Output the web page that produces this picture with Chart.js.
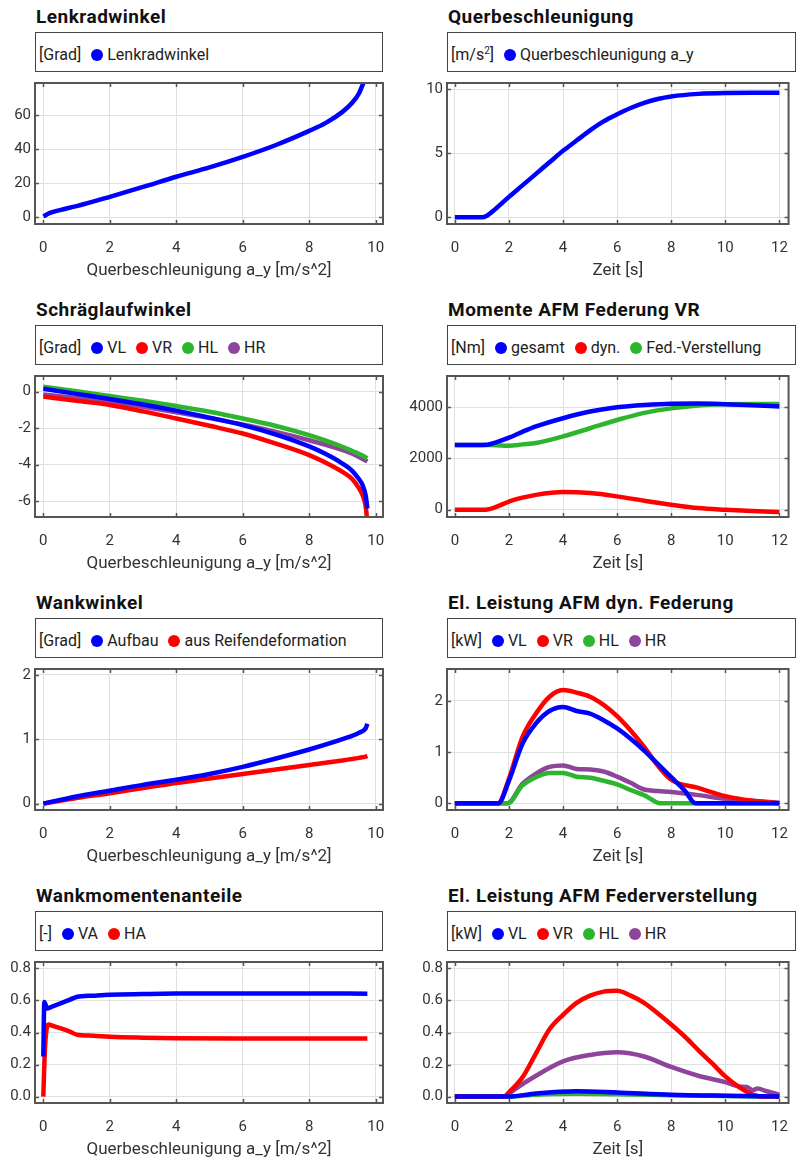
<!DOCTYPE html>
<html>
<head>
<meta charset="utf-8">
<script src="https://cdn.jsdelivr.net/npm/chart.js@4"></script>
<style>
  body { margin: 0; background: #fff; font-family: Roboto, sans-serif; }
  #page { position: relative; width: 803px; height: 1160px; overflow: hidden; }
  canvas { position: absolute; }
  .ttl { position: absolute; font-size: 19px; line-height: 18px; letter-spacing: 0.5px; font-weight: bold; color: #111; white-space: nowrap; }
  .leg { position: absolute; height: 40px; border: 1.5px solid #444; box-sizing: border-box; }
  .leg .row { position: absolute; left: 3px; top: 12px; display: flex; align-items: center; font-size: 16px; line-height: 20px; color: #222; white-space: nowrap; }
  .leg .it { display: flex; align-items: center; margin-left: 10px; }
  .leg .dot { width: 12px; height: 12px; border-radius: 50%; margin-right: 4px; }
  .leg sup { font-size: 10px; line-height: 0; }
</style>
</head>
<body>
<div id="page"></div>
<script>
const BLUE = '#0000ff', RED = '#ff0000', GREEN = '#2db52d', PURPLE = '#8f449b';

// tick labels
const ticksAy = [0, 2, 4, 6, 8, 10];
const ticksT = [0, 2, 4, 6, 8, 10, 12];
const yTicksLenk = [0, 20, 40, 60];
const yTicksQuer = [0, 5, 10];
const yTicksSchr = [-6, -4, -2, 0];
const yTicksMom = [0, 2000, 4000];
const yTicksWank = [0, 1, 2];
const yTicksFd = [0, 1, 2];
const yTicksAnt = [0, 0.2, 0.4, 0.6, 0.8];
const yTicksFv = [0, 0.2, 0.4, 0.6, 0.8];

// Lenkradwinkel
const ayLenk = [0, 0.2, 0.5, 1, 2, 3, 4, 5, 6, 7, 8, 8.5, 9, 9.3, 9.5, 9.65];
const lenkrad = [0.5, 2.5, 4.2, 6.5, 12, 17.8, 23.8, 29.3, 35.5, 42.5, 50.8, 55.5, 62, 67.5, 73, 80];

// Querbeschleunigung
const tQuer = [0, 1, 1.2, 1.5, 2, 2.5, 3, 3.5, 4, 4.5, 5, 5.5, 6, 6.5, 7, 7.5, 8, 9, 10, 11, 12];
const quer = [0, 0, 0.15, 0.65, 1.6, 2.5, 3.4, 4.3, 5.2, 6.0, 6.8, 7.5, 8.05, 8.55, 8.95, 9.25, 9.45, 9.65, 9.72, 9.73, 9.73];

// Schräglaufwinkel
const aySchr = [0, 1, 2, 3, 4, 5, 6, 7, 8, 8.5, 9, 9.3, 9.5, 9.6, 9.7, 9.75];
const schrVL = [0.16, -0.12, -0.4, -0.7, -1.04, -1.42, -1.83, -2.35, -3.0, -3.42, -3.94, -4.35, -4.8, -5.1, -5.7, -6.4];
const schrVR = [-0.27, -0.5, -0.73, -1.08, -1.47, -1.87, -2.29, -2.85, -3.48, -3.9, -4.4, -4.8, -5.3, -5.65, -6.3, -7.2];
const schrHL = [0.27, 0.02, -0.24, -0.5, -0.79, -1.1, -1.47, -1.88, -2.38, -2.68, -3.02, -3.25, -3.42, -3.5, -3.6, -3.65];
const schrHR = [-0.15, -0.35, -0.55, -0.83, -1.13, -1.45, -1.8, -2.2, -2.66, -2.92, -3.2, -3.4, -3.58, -3.68, -3.78, -3.83];

// Momente AFM Federung VR
const tMom = [0, 1, 1.2, 1.5, 2, 2.5, 3, 4, 5, 6, 7, 8, 9, 10, 11, 12];
const momGesamt = [2530, 2530, 2535, 2620, 2810, 3040, 3250, 3570, 3830, 4000, 4090, 4140, 4145, 4120, 4080, 4030];
const momDyn = [0, 0, 10, 100, 320, 470, 580, 690, 650, 520, 350, 195, 65, 0, -50, -90];
const momFed = [2530, 2530, 2525, 2520, 2500, 2550, 2600, 2860, 3180, 3500, 3780, 3955, 4070, 4115, 4130, 4125];

// Wankwinkel
const ayWank = [0, 1, 2, 3, 4, 5, 6, 7, 8, 9, 9.5, 9.7, 9.75];
const wankAufbau = [0, 0.11, 0.2, 0.29, 0.37, 0.46, 0.57, 0.7, 0.84, 1.0, 1.1, 1.17, 1.24];
const wankReifen = [0, 0.085, 0.16, 0.24, 0.32, 0.39, 0.46, 0.53, 0.6, 0.67, 0.71, 0.73, 0.74];

// El. Leistung AFM dyn. Federung
const tFdVL = [0, 1.6, 2, 2.5, 3, 3.5, 4, 4.5, 5, 5.5, 6, 6.5, 7, 7.5, 8, 8.5, 8.9, 12];
const fdVL = [0, 0, 0.44, 1.16, 1.56, 1.8, 1.88, 1.8, 1.75, 1.62, 1.46, 1.26, 1.03, 0.77, 0.51, 0.25, 0, 0];
const tFdVR = [0, 1.6, 2, 2.5, 3, 3.5, 4, 4.5, 5, 5.5, 6, 6.5, 7, 7.5, 8, 9, 10, 11, 12];
const fdVR = [0, 0, 0.48, 1.29, 1.75, 2.08, 2.21, 2.16, 2.08, 1.92, 1.7, 1.42, 1.1, 0.74, 0.46, 0.3, 0.14, 0.05, 0];
const tFdHL = [0, 1.95, 2.5, 3, 3.5, 4, 4.5, 5, 5.5, 6, 6.5, 7, 7.6, 12];
const fdHL = [0, 0, 0.35, 0.51, 0.59, 0.59, 0.52, 0.5, 0.44, 0.37, 0.26, 0.16, 0, 0];
const tFdHR = [0, 1.95, 2.5, 3, 3.5, 4, 4.5, 5, 5.5, 6, 6.5, 7, 7.5, 8, 9, 10, 11, 12];
const fdHR = [0, 0, 0.38, 0.58, 0.71, 0.74, 0.67, 0.66, 0.62, 0.52, 0.4, 0.27, 0.24, 0.22, 0.16, 0.09, 0.05, 0.01];

// Wankmomentenanteile
const ayVA = [0, 0.03, 0.12, 0.3, 0.5, 0.8, 1, 1.5, 2, 3, 4, 6, 8, 9.75];
const antVA = [0.25, 0.59, 0.55, 0.565, 0.58, 0.605, 0.622, 0.63, 0.636, 0.64, 0.643, 0.644, 0.644, 0.642];
const ayHA = [0, 0.05, 0.15, 0.3, 0.5, 0.8, 1, 1.5, 2, 3, 4, 6, 8, 9.75];
const antHA = [0, 0.3, 0.45, 0.44, 0.427, 0.406, 0.387, 0.38, 0.374, 0.368, 0.364, 0.362, 0.362, 0.362];

// El. Leistung AFM Federverstellung
const tFvVL = [0, 2, 3, 4.5, 6, 8, 10, 12];
const fvVL = [0, 0, 0.02, 0.034, 0.026, 0.012, 0.005, 0];
const tFvVR = [0, 1.8, 2, 2.5, 3, 3.5, 4, 4.5, 5, 5.5, 6, 6.5, 7, 7.5, 8, 8.5, 9, 9.5, 10, 10.5, 11, 11.5, 12];
const fvVR = [0, 0, 0.027, 0.12, 0.27, 0.42, 0.51, 0.585, 0.63, 0.655, 0.66, 0.63, 0.585, 0.52, 0.45, 0.375, 0.29, 0.21, 0.126, 0.06, 0.013, 0, 0];
const tFvHL = [0, 2, 3, 4.5, 6, 8, 10, 12];
const fvHL = [0, 0, 0.012, 0.017, 0.015, 0.008, 0.003, 0];
const tFvHR = [0, 1.9, 2, 3, 4, 5, 6, 7, 8, 9, 10, 10.5, 10.8, 11, 11.2, 11.5, 12];
const fvHR = [0, 0, 0.017, 0.13, 0.22, 0.26, 0.276, 0.25, 0.185, 0.13, 0.09, 0.063, 0.06, 0.04, 0.05, 0.035, 0.012];

const AY = 'Querbeschleunigung a_y [m/s^2]';
const ZEIT = 'Zeit [s]';
const xrAy = [-0.25, 10.22];
const xrT = [-0.29, 12.34];

const panels = [
  { col: 0, row: 0, title: 'Lenkradwinkel', unit: '[Grad]', xTitle: AY, xr: xrAy, xt: ticksAy, yr: [-4, 79], yt: yTicksLenk,
    series: [['Lenkradwinkel', ayLenk, lenkrad, BLUE]] },
  { col: 1, row: 0, title: 'Querbeschleunigung', unit: '[m/s<sup>2</sup>]', xTitle: ZEIT, xr: xrT, xt: ticksT, yr: [-0.52, 10.5], yt: yTicksQuer,
    series: [['Querbeschleunigung a_y', tQuer, quer, BLUE]] },
  { col: 0, row: 1, title: 'Schräglaufwinkel', unit: '[Grad]', xTitle: AY, xr: xrAy, xt: ticksAy, yr: [-6.87, 0.86], yt: yTicksSchr,
    series: [['VL', aySchr, schrVL, BLUE], ['VR', aySchr, schrVR, RED], ['HL', aySchr, schrHL, GREEN], ['HR', aySchr, schrHR, PURPLE]] },
  { col: 1, row: 1, title: 'Momente AFM Federung VR', unit: '[Nm]', xTitle: ZEIT, xr: xrT, xt: ticksT, yr: [-284, 5218], yt: yTicksMom,
    series: [['gesamt', tMom, momGesamt, BLUE], ['dyn.', tMom, momDyn, RED], ['Fed.-Verstellung', tMom, momFed, GREEN]] },
  { col: 0, row: 2, title: 'Wankwinkel', unit: '[Grad]', xTitle: AY, xr: xrAy, xt: ticksAy, yr: [-0.1, 2.09], yt: yTicksWank,
    series: [['Aufbau', ayWank, wankAufbau, BLUE], ['aus Reifendeformation', ayWank, wankReifen, RED]] },
  { col: 1, row: 2, title: 'El. Leistung AFM dyn. Federung', unit: '[kW]', xTitle: ZEIT, xr: xrT, xt: ticksT, yr: [-0.13, 2.62], yt: yTicksFd,
    series: [['VL', tFdVL, fdVL, BLUE], ['VR', tFdVR, fdVR, RED], ['HL', tFdHL, fdHL, GREEN], ['HR', tFdHR, fdHR, PURPLE]] },
  { col: 0, row: 3, title: 'Wankmomentenanteile', unit: '[-]', xTitle: AY, xr: xrAy, xt: ticksAy, yr: [-0.04, 0.84], yt: yTicksAnt, dec: true,
    series: [['VA', ayVA, antVA, BLUE], ['HA', ayHA, antHA, RED]] },
  { col: 1, row: 3, title: 'El. Leistung AFM Federverstellung', unit: '[kW]', xTitle: ZEIT, xr: xrT, xt: ticksT, yr: [-0.04, 0.84], yt: yTicksFv, dec: true,
    series: [['VL', tFvVL, fvVL, BLUE], ['VR', tFvVR, fvVR, RED], ['HL', tFvHL, fvHL, GREEN], ['HR', tFvHR, fvHR, PURPLE]] }
];

const rowY = [0, 293, 586, 879];

// box round the plot area with small inward ticks on all four sides
const framePlugin = {
  id: 'frame',
  afterDraw(chart) {
    const { ctx, chartArea: a, scales } = chart;
    ctx.save();
    ctx.strokeStyle = '#555';
    ctx.lineWidth = 1.5;
    ctx.beginPath();
    scales.x.ticks.forEach(t => {
      const px = Math.round(scales.x.getPixelForValue(t.value)) + 0.5;
      ctx.moveTo(px, a.bottom); ctx.lineTo(px, a.bottom - 4);
      ctx.moveTo(px, a.top); ctx.lineTo(px, a.top + 4);
    });
    scales.y.ticks.forEach(t => {
      const py = Math.round(scales.y.getPixelForValue(t.value)) + 0.5;
      ctx.moveTo(a.left, py); ctx.lineTo(a.left + 4, py);
      ctx.moveTo(a.right, py); ctx.lineTo(a.right - 4, py);
    });
    ctx.stroke();
    ctx.lineWidth = 2;
    ctx.strokeRect(a.left, a.top, a.right - a.left, a.bottom - a.top);
    ctx.restore();
  }
};

Chart.defaults.font.family = 'Roboto, sans-serif';
Chart.defaults.color = '#333';

const page = document.getElementById('page');

panels.forEach(p => {
  // left column: canvas 0..400, plot 35..383; right column: canvas 400..803, plot 447..796
  const x0 = p.col === 0 ? 0 : 400;
  const w = p.col === 0 ? 400 : 403;
  const plotLeft = p.col === 0 ? 35 : 47;
  const plotRight = p.col === 0 ? 383 : 396;
  const y0 = rowY[p.row];

  const ttl = document.createElement('div');
  ttl.className = 'ttl';
  ttl.style.left = (x0 + plotLeft + 1) + 'px';
  ttl.style.top = (y0 + 8) + 'px';
  ttl.textContent = p.title;
  page.appendChild(ttl);

  const leg = document.createElement('div');
  leg.className = 'leg';
  leg.style.left = (x0 + plotLeft) + 'px';
  leg.style.top = (y0 + 32) + 'px';
  leg.style.width = (plotRight - plotLeft) + 'px';
  let html = '<div class="row"><span>' + p.unit + '</span>';
  p.series.forEach(s => {
    html += '<span class="it"><span class="dot" style="background:' + s[3] + '"></span>' + s[0] + '</span>';
  });
  leg.innerHTML = html + '</div>';
  page.appendChild(leg);

  const cv = document.createElement('canvas');
  cv.width = w;
  cv.height = 281;
  cv.style.left = x0 + 'px';
  cv.style.top = y0 + 'px';
  page.appendChild(cv);

  const datasets = p.series.map(s => ({
    label: s[0],
    data: s[1].map((x, k) => ({ x: x, y: s[2][k] })),
    borderColor: s[3],
    backgroundColor: s[3],
    borderWidth: 4.5,
    pointRadius: 0,
    cubicInterpolationMode: 'monotone',
    clip: 0
  }));

  new Chart(cv, {
    type: 'line',
    data: { datasets },
    plugins: [framePlugin],
    options: {
      responsive: false,
      animation: false,
      layout: { padding: { left: 0, top: 83, right: w - plotRight, bottom: 0 } },
      plugins: { legend: { display: false }, tooltip: { enabled: false } },
      scales: {
        x: {
          type: 'linear',
          min: p.xr[0], max: p.xr[1],
          afterBuildTicks: s => { s.ticks = p.xt.map(v => ({ value: v })); },
          afterFit: s => { s.height = 57; },
          grid: { color: '#e0e0e0', drawTicks: false },
          border: { display: false },
          ticks: { padding: 15, maxRotation: 0, font: { size: 15 }, color: '#333', callback: v => String(v) },
          title: { display: true, text: p.xTitle, font: { size: 17 }, color: '#333', padding: 0 }
        },
        y: {
          type: 'linear',
          min: p.yr[0], max: p.yr[1],
          afterBuildTicks: s => { s.ticks = p.yt.map(v => ({ value: v })); },
          afterFit: s => { s.width = plotLeft; },
          grid: { color: '#e0e0e0', drawTicks: false },
          border: { display: false },
          ticks: { padding: 4, font: { size: 15 }, color: '#333', callback: v => p.dec ? v.toFixed(1) : String(v) }
        }
      }
    }
  });
});
</script>
</body>
</html>
